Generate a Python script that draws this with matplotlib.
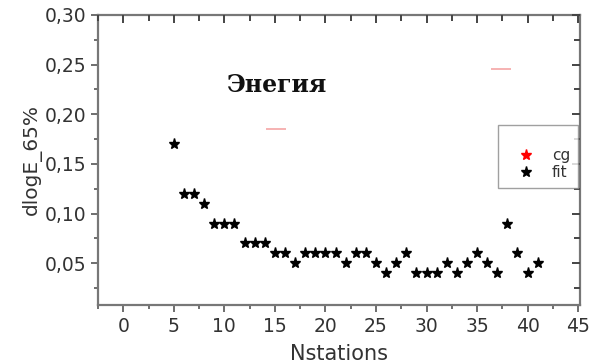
import numpy as np
import matplotlib
matplotlib.use('Agg')
import matplotlib.pyplot as plt
from matplotlib.lines import Line2D
from matplotlib.ticker import MultipleLocator, FuncFormatter

# ── Data ──
n_stations = [5, 6, 7, 8, 9, 10, 11, 12, 13, 14, 15, 16, 17, 18, 19, 20, 21,
              22, 23, 24, 25, 26, 27, 28, 29, 30, 31, 32, 33, 34, 35, 36, 37,
              38, 39, 40, 41]
dloge_fit = [0.17, 0.12, 0.12, 0.11, 0.09, 0.09, 0.09, 0.07, 0.07, 0.07, 0.06,
             0.06, 0.05, 0.06, 0.06, 0.06, 0.06, 0.05, 0.06, 0.06, 0.05, 0.04,
             0.05, 0.06, 0.04, 0.04, 0.04, 0.05, 0.04, 0.05, 0.06, 0.05, 0.04,
             0.09, 0.06, 0.04, 0.05]
cg_x = [15.1, 37.4]
cg_y = [0.185, 0.246]

plt.rcParams['font.family'] = ['DejaVu Sans']

fig = plt.figure(figsize=(5.92, 3.63), dpi=100)
ax = fig.add_axes([0.1655, 0.16, 0.8145, 0.7987])

ax.plot(n_stations, dloge_fit, linestyle='none', marker='*', color='black',
        markersize=8)
ax.plot(cg_x, cg_y, linestyle='none', marker='_', color='#f08080',
        markersize=14, markeredgewidth=1.2, alpha=0.7)

XLIM = (-2.5, 45.2)
YLIM = (0.008, 0.30)

def setup_ticks(a):
    a.set_xlim(*XLIM)
    a.set_ylim(*YLIM)
    a.xaxis.set_major_locator(MultipleLocator(5))
    a.xaxis.set_minor_locator(MultipleLocator(2.5))
    a.yaxis.set_major_locator(MultipleLocator(0.05))
    a.yaxis.set_minor_locator(MultipleLocator(0.025))

setup_ticks(ax)
ax.yaxis.set_major_formatter(FuncFormatter(lambda v, p: f'{v:.2f}'.replace('.', ',')))

for s in ax.spines.values():
    s.set_color('#777777')
    s.set_linewidth(1.6)

ax.tick_params(which='both', direction='out', color='#555555', width=1.2,
               labelsize=13.5, labelcolor='#333333', top=False, right=False)
ax.tick_params(which='major', length=5)
ax.tick_params(which='minor', length=3)

# overlay axes: inward ticks on top and right spines
ov = fig.add_axes(ax.get_position(), frameon=False)
setup_ticks(ov)
ov.tick_params(which='both', direction='in', color='#444444', width=1.4,
               left=False, bottom=False, top=True, right=True,
               labelleft=False, labelbottom=False)
ov.tick_params(which='major', length=6)
ov.tick_params(which='minor', length=4)
ov.patch.set_visible(False)

ax.set_xlabel('Nstations', fontsize=15, color='#333333', labelpad=6)
ax.set_ylabel('dlogE_65%', fontsize=14.5, color='#333333', labelpad=2)

ax.text(0.371, 0.76, 'Энегия', transform=ax.transAxes, ha='center',
        va='center', fontsize=17, fontweight='bold',
        family=['DejaVu Serif'], color='#111111')

handles = [Line2D([], [], linestyle='none', marker='*', color='red', markersize=8),
           Line2D([], [], linestyle='none', marker='*', color='black', markersize=8)]
leg = ov.legend(handles, ['cg', 'fit'], loc='upper right', title=' ',
                bbox_to_anchor=(0.995, 0.62), frameon=True, fancybox=False,
                fontsize=11, title_fontsize=9, handletextpad=0.4,
                borderpad=0.5, labelspacing=0.15, handlelength=2.6,
                borderaxespad=0)
leg.get_frame().set_edgecolor('#888888')
leg.get_frame().set_linewidth(1.0)
for t in leg.get_texts():
    t.set_color('#333333')

plt.savefig('out.png', dpi=100)
